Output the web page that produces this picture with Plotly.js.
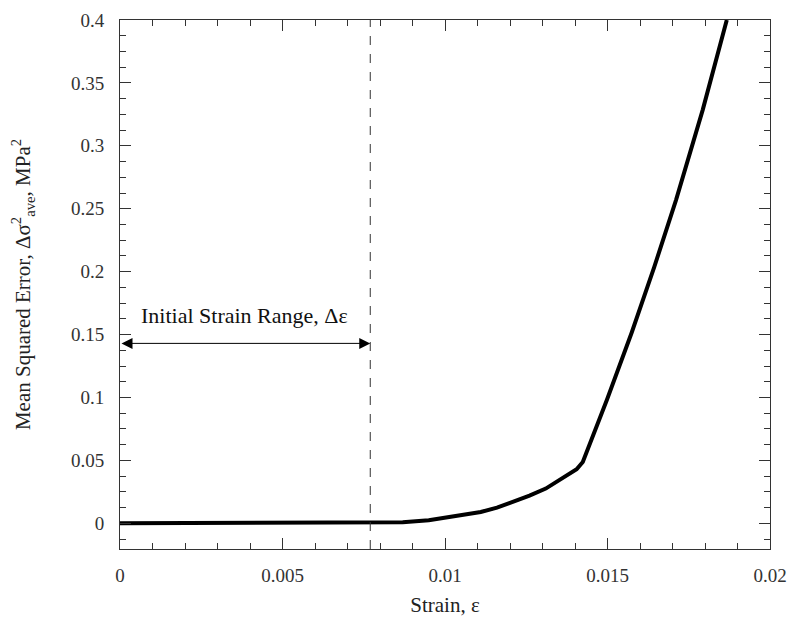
<!DOCTYPE html>
<html>
<head>
<meta charset="utf-8">
<script src="https://cdn.plot.ly/plotly-3.0.1.min.js"></script>
<style>html,body{margin:0;padding:0;background:#fff;}#chart{width:800px;height:633px;}</style>
</head>
<body>
<div id="chart"></div>
<script>
// Strain values (x) and mean squared error (y)
var strain = [0, 0.0017, 0.005, 0.0077, 0.0087, 0.0095, 0.0100, 0.0105, 0.0111, 0.0116, 0.0121, 0.0126,
              0.0131, 0.0137, 0.01405, 0.01424,
              0.01498, 0.01574, 0.01644, 0.01711, 0.01793, 0.01867];
var mse    = [0, 0.0003, 0.0005, 0.0006, 0.0008, 0.0025, 0.0045, 0.0065, 0.0090, 0.0125, 0.0170, 0.0220,
              0.0276, 0.0368, 0.0430, 0.0487,
              0.0980, 0.1513, 0.2038, 0.2571, 0.3286, 0.4000];

// Initial strain range marker
var rangeEnd = 0.0077;
var arrowY = 0.143;
var rangeLabel = "Initial Strain Range, \u0394\u03b5";
var labelX = 0.00382;
var labelY = 0.165;

var xTitle = "Strain, \u03b5";
var yTitle = "Mean Squared Error, \u0394\u03c3<sup>2</sup><sub>ave</sub>, MPa<sup>2</sup>";

var xRange = [0, 0.02];
var yRange = [-0.0204, 0.4];

var serif = 'Liberation Serif';

var data = [{
  x: strain, y: mse, type: 'scatter', mode: 'lines',
  line: {color: '#000', width: 4}, hoverinfo: 'skip'
}, {
  // carrier for the tick-mark overlay axes (draws nothing)
  x: [xRange[0]], y: [yRange[0]], xaxis: 'x2', yaxis: 'y2', type: 'scatter', mode: 'markers',
  marker: {opacity: 0}, hoverinfo: 'skip'
}];

var tickAxisCommon = {
  ticks: 'inside', tickcolor: '#333', tickwidth: 1,
  showticklabels: false, showline: false, showgrid: false, zeroline: false, mirror: 'ticks'
};

var layout = {
  width: 800, height: 633,
  margin: {l: 120, r: 30, t: 20, b: 84},
  paper_bgcolor: '#fff', plot_bgcolor: '#fff',
  showlegend: false,
  font: {family: serif, size: 19, color: '#333'},
  xaxis: {
    range: xRange, dtick: 0.005, tick0: 0,
    ticks: 'outside', ticklen: 9, tickcolor: 'rgba(0,0,0,0)',
    showline: true, linecolor: '#333', linewidth: 1, mirror: true,
    showgrid: false, zeroline: false,
    tickfont: {family: serif, size: 19, color: '#333'},
    title: {text: xTitle, font: {family: serif, size: 21, color: '#222'}, standoff: 12}
  },
  yaxis: {
    range: yRange, dtick: 0.05, tick0: 0,
    ticks: 'outside', ticklen: 11, tickcolor: 'rgba(0,0,0,0)',
    showline: true, linecolor: '#333', linewidth: 1, mirror: true,
    showgrid: false, zeroline: false,
    tickfont: {family: serif, size: 19, color: '#333'},
    title: {text: yTitle, font: {family: serif, size: 21, color: '#222'}, standoff: 34}
  },
  xaxis2: Object.assign({}, tickAxisCommon, {
    overlaying: 'x', anchor: 'y2', side: 'bottom', range: xRange, dtick: 0.005, tick0: 0, ticklen: 11,
    minor: {dtick: 0.001, ticks: 'inside', ticklen: 6, tickcolor: '#333', tickwidth: 1}
  }),
  yaxis2: Object.assign({}, tickAxisCommon, {
    overlaying: 'y', anchor: 'x2', side: 'left', range: yRange, dtick: 0.05, tick0: 0, ticklen: 11,
    minor: {dtick: 0.0125, ticks: 'inside', ticklen: 6, tickcolor: '#333', tickwidth: 1}
  }),
  shapes: [{
    type: 'line', xref: 'x', yref: 'paper', x0: rangeEnd, x1: rangeEnd, y0: 0, y1: 1,
    line: {color: '#333', width: 1, dash: 'dash'}
  }],
  annotations: [{
    xref: 'x', yref: 'y', axref: 'x', ayref: 'y',
    x: rangeEnd, y: arrowY, ax: 0, ay: arrowY,
    text: '', showarrow: true, arrowside: 'end+start',
    arrowhead: 2, arrowsize: 2.2, arrowwidth: 1, arrowcolor: '#000', standoff: 0, startstandoff: 0
  }, {
    xref: 'x', yref: 'y', x: labelX, y: labelY, text: rangeLabel, showarrow: false,
    font: {family: serif, size: 22, color: '#111'}
  }]
};

Plotly.newPlot('chart', data, layout, {displayModeBar: false, staticPlot: true});
</script>
</body>
</html>
